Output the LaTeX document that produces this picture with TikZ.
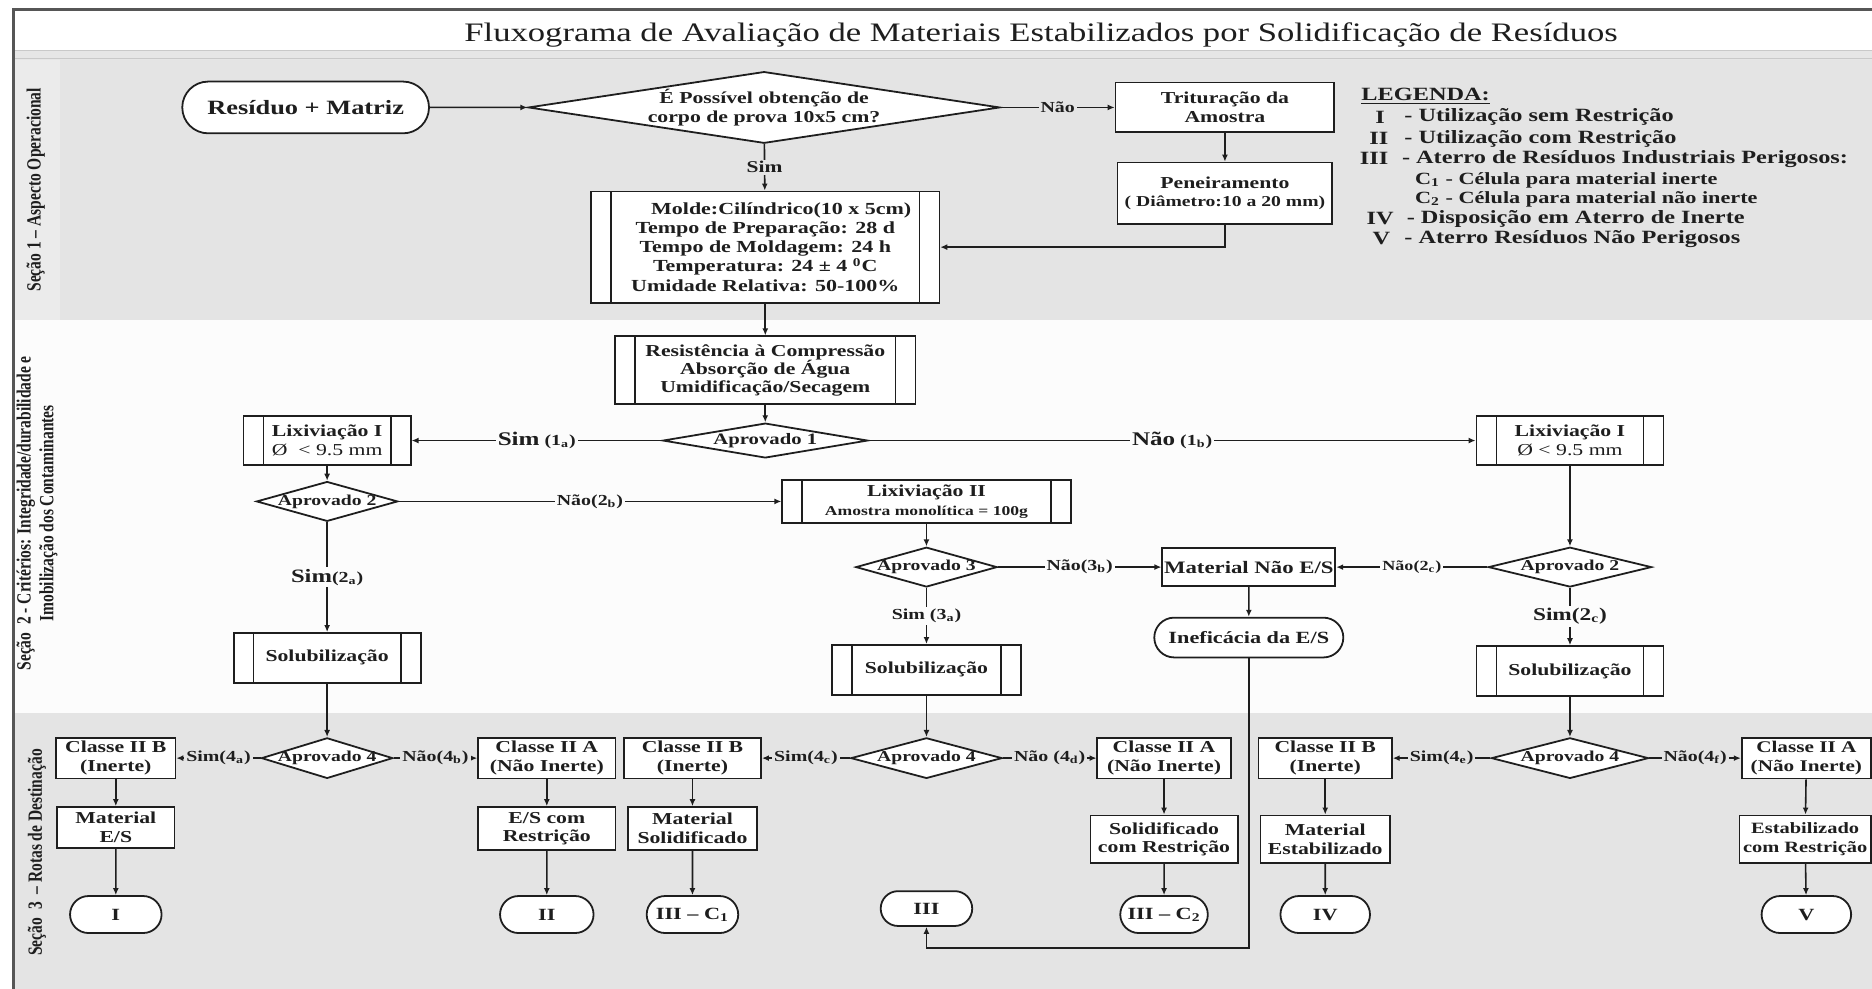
\documentclass[tikz,border=0pt]{standalone}
\usepackage{fontspec}
\setmainfont{Liberation Serif}[FakeStretch=1.3]
\newfontfamily\rotfont{Liberation Serif}
\usetikzlibrary{shapes.geometric,shapes.misc,arrows.meta,calc}
\definecolor{band}{RGB}{228,228,228}
\definecolor{bandl}{RGB}{235,235,235}
\definecolor{bandw}{RGB}{252,252,252}
\definecolor{ink}{RGB}{30,30,30}
\definecolor{sep}{RGB}{210,210,210}
\newcommand{\fz}[2]{\fontsize{#1}{#2}\selectfont}
\begin{document}
\begin{tikzpicture}[x=0.6pt,y=-0.6pt,
 wh/.style 2 args={minimum width=#1,minimum height=#2},
 box/.style={draw=ink,line width=0.9pt,fill=white,align=center,text=ink,inner sep=0pt,font=\bfseries\fz{8.4}{9.4}},
 subp/.style={box,path picture={\draw[ink,line width=0.8pt]
   ([xshift=10pt]path picture bounding box.north west) -- ([xshift=10pt]path picture bounding box.south west)
   ([xshift=-10pt]path picture bounding box.north east) -- ([xshift=-10pt]path picture bounding box.south east);}},
 dec/.style={diamond,draw=ink,line width=0.9pt,fill=white,inner sep=0pt},
 dlab/.style={font=\bfseries\fz{7.6}{8.5},align=center,text=ink,inner sep=0pt},
 term/.style={rounded rectangle,draw=ink,line width=0.9pt,fill=white,text=ink,inner sep=0pt,font=\bfseries\fz{8.6}{9}},
 arr/.style={draw=ink,line width=0.8pt,-{Latex[length=3.5pt,width=3pt]}},
 elab/.style={font=\bfseries\fz{7.7}{8},text=ink,inner sep=1pt},
 lg/.style={font=\bfseries\fz{9.4}{10},text=ink,inner sep=0pt},
 rlab/.style={rotate=90,yscale=1.3,text=ink,align=center,font=\rotfont\bfseries\fz{7.8}{8.8}},
]
\useasboundingbox (0,0) rectangle (1568,828);
% backgrounds
\fill[white] (0,0) rectangle (1568,828);
\fill[band] (11,50) rectangle (1568,268);
\fill[bandl] (11,50) rectangle (50,268);
\fill[bandw] (11,268) rectangle (1568,597);
\fill[band] (11,597) rectangle (1568,828);
\fill[sep!55] (11,42) rectangle (1568,50);
\draw[sep!120,line width=0.6pt] (11,42) -- (1568,42) (11,49) -- (1568,49);
\draw[ink!75,line width=1.4pt] (11,828) -- (11,8) -- (1568,8);

% title and section labels
\node[anchor=base,font=\fz{13.4}{14},text=ink] (title) at (872,35) {Fluxograma de Avaliação de Materiais Estabilizados por Solidificação de Resíduos};
\node[rlab] (s1) at (30,159) {Seção 1 – Aspecto Operacional};
\node[rlab] (s2) at (31,430) {Seção\ \ 2 - Critérios: Integridade/durabilidade e\\Imobilização dos Contaminantes};
\node[rlab] (s3) at (31,714) {Seção\ \ 3\ \ – Rotas de Destinação};

% legend
\node[lg,anchor=west] (lgT) at (1140,81) {\underline{LEGENDA:}};
\node[lg] (lg1n) at (1156,98) {I};
\node[lg,anchor=west] (lg1) at (1176,98) {- Utilização sem Restrição};
\node[lg] (lg2n) at (1155,116) {II};
\node[lg,anchor=west] (lg2) at (1176,116) {- Utilização com Restrição};
\node[lg] (lg3n) at (1151,133) {III};
\node[lg,anchor=west] (lg3) at (1174,133) {- Aterro de Resíduos Industriais Perigosos:};
\node[lg,anchor=west,font=\bfseries\fz{8.6}{9}] (lgc1) at (1185,151) {C\textsubscript{1} - Célula para material inerte};
\node[lg,anchor=west,font=\bfseries\fz{8.6}{9}] (lgc2) at (1185,167) {C\textsubscript{2} - Célula para material não inerte};
\node[lg] (lg4n) at (1156,183) {IV};
\node[lg,anchor=west] (lg4) at (1178,183) {- Disposição em Aterro de Inerte};
\node[lg] (lg5n) at (1157,200) {V};
\node[lg,anchor=west] (lg5) at (1176,200) {- Aterro Resíduos Não Perigosos};

% Section 1
\node[term,wh={124pt}{26pt},font=\bfseries\fz{10.2}{11}] (res) at (256,90) {Resíduo + Matriz};
\node[dec,wh={237pt}{36pt},label={[dlab,font=\bfseries\fz{8.4}{9.6}]center:É Possível obtenção de\\corpo de prova 10x5 cm?}] (dia1) at (640,90) {};
\node[box,wh={110pt}{25pt}] (trit) at (1026,90) {Trituração da\\Amostra};
\node[box,wh={108pt}{31pt}] (pen) at (1026,162) {Peneiramento\\{\fz{7.6}{9}( Diâmetro:10 a 20 mm)}};
\node[subp,wh={175pt}{56pt},font=\bfseries\fz{8.5}{9.6}] (molde) at (641,207) {\hspace*{16pt}Molde:Cilíndrico(10 x 5cm)\\Tempo de Preparação: 28 d\\Tempo de Moldagem: 24 h\\Temperatura: 24 ± 4 \textsuperscript{0}C\\Umidade Relativa: 50-100\%};

% Section 2
\node[subp,wh={151pt}{34pt},font=\bfseries\fz{8.4}{9}] (resist) at (641,310) {Resistência à Compressão\\Absorção de Água\\Umidificação/Secagem};
\node[dec,wh={103pt}{17.5pt},label={[dlab,font=\bfseries\fz{8}{9}]center:Aprovado 1}] (ap1) at (641,369) {};
\node[subp,wh={84pt}{24.6pt}] (lixL) at (274,369) {Lixiviação I\\{\mdseries Ø\ \ < 9.5 mm}};
\node[subp,wh={94pt}{24.6pt}] (lixR) at (1315,369) {Lixiviação I\\{\mdseries Ø < 9.5 mm}};
\node[dec,wh={71pt}{20pt},label={[dlab]center:Aprovado 2}] (ap2L) at (274,420) {};
\node[subp,wh={145pt}{21.6pt}] (lix2) at (776,420) {Lixiviação II\\{\fz{6.8}{8}Amostra monolítica = 100g}};
\node[dec,wh={71pt}{20pt},label={[dlab]center:Aprovado 3}] (ap3) at (776,475) {};
\node[box,wh={87pt}{19pt},font=\bfseries\fz{8.8}{9}] (mat) at (1046,475) {Material Não E/S};
\node[dec,wh={82pt}{20pt},label={[dlab]center:Aprovado 2}] (ap2R) at (1315,475) {};
\node[term,wh={95pt}{20pt}] (inef) at (1046,534) {Ineficácia da E/S};
\node[subp,wh={94pt}{25pt}] (solL) at (274,551) {Solubilização};
\node[subp,wh={95pt}{25pt}] (solM) at (776,561) {Solubilização};
\node[subp,wh={94pt}{25pt}] (solR) at (1315,562) {Solubilização};

% Section 3
\node[dec,wh={66pt}{20.4pt},label={[dlab]center:Aprovado 4}] (ap4L) at (274,635) {};
\node[dec,wh={76pt}{20.4pt},label={[dlab]center:Aprovado 4}] (ap4M) at (776,635) {};
\node[dec,wh={79pt}{20.4pt},label={[dlab]center:Aprovado 4}] (ap4R) at (1315,635) {};
\node[box,wh={60pt}{20.4pt}] (c2bL) at (97,635) {Classe II B\\(Inerte)};
\node[box,wh={69pt}{20.4pt}] (c2aL) at (458,635) {Classe II A\\(Não Inerte)};
\node[box,wh={69pt}{20.4pt}] (c2bM) at (580,635) {Classe II B\\(Inerte)};
\node[box,wh={67pt}{20.4pt}] (c2aM) at (975,635) {Classe II A\\(Não Inerte)};
\node[box,wh={67pt}{20.4pt}] (c2bR) at (1110,635) {Classe II B\\(Inerte)};
\node[box,wh={65pt}{20.4pt},font=\bfseries\fz{8.2}{9.4}] (c2aR) at (1513,635) {Classe II A\\(Não Inerte)};
\node[box,wh={59pt}{20.4pt}] (matES) at (97,693) {Material\\E/S};
\node[box,wh={69pt}{21.6pt}] (esRes) at (458,694) {E/S com\\Restrição};
\node[box,wh={65pt}{21.6pt}] (matSol) at (580,694) {Material\\Solidificado};
\node[box,wh={74pt}{24pt}] (solRes) at (975,703) {Solidificado\\com Restrição};
\node[box,wh={65pt}{24pt}] (matEst) at (1110,703) {Material\\Estabilizado};
\node[box,wh={66pt}{24pt},font=\bfseries\fz{7.9}{9.4}] (estRes) at (1512,703) {Estabilizado\\com Restrição};
\node[term,wh={46pt}{18.6pt}] (tI) at (97,766) {I};
\node[term,wh={47pt}{18.6pt}] (tII) at (458,766) {II};
\node[term,wh={46pt}{18.6pt}] (tIIIc1) at (580,766) {III – C\textsubscript{1}};
\node[term,wh={46pt}{17.5pt}] (tIII) at (776,761) {III};
\node[term,wh={44pt}{18.6pt}] (tIIIc2) at (975,766) {III – C\textsubscript{2}};
\node[term,wh={45pt}{18.6pt}] (tIV) at (1110,766) {IV};
\node[term,wh={45pt}{18.6pt}] (tV) at (1513,766) {V};
\coordinate (loop) at (776,794);

% connectors section 1
\draw[arr] (res) -- (dia1);
\draw[arr] (dia1) -- node[elab,fill=band]{Não} (trit);
\draw[arr] (dia1) -- node[elab,fill=band,font=\bfseries\fz{8.3}{9}]{Sim} (molde);
\draw[arr] (trit) -- (pen);
\draw[arr] (pen.south) |- (molde.east);
\draw[arr] (molde) -- (resist);
% section 2
\draw[arr] (resist) -- (ap1);
\draw[arr] (ap1) -- node[elab,fill=bandw]{{\fz{9.7}{10}Sim} (1\textsubscript{a})} (lixL);
\draw[arr] (ap1) -- node[elab,fill=bandw]{{\fz{9.7}{10}Não} (1\textsubscript{b})} (lixR);
\draw[arr] (lixL) -- (ap2L);
\draw[arr] (ap2L) -- node[elab,fill=bandw]{Não(2\textsubscript{b})} (lix2);
\draw[arr] (ap2L) -- node[elab,fill=bandw]{{\fz{9.5}{10}Sim}(2\textsubscript{a})} (solL);
\draw[arr] (lix2) -- (ap3);
\draw[arr] (ap3) -- node[elab,fill=bandw]{Não(3\textsubscript{b})} (mat);
\draw[arr] (ap3) -- node[elab,fill=bandw]{Sim (3\textsubscript{a})} (solM);
\draw[arr] (lixR) -- (ap2R);
\draw[arr] (ap2R) -- node[elab,fill=bandw,font=\bfseries\fz{7}{8}]{Não(2\textsubscript{c})} (mat);
\draw[arr] (ap2R) -- node[elab,fill=bandw,font=\bfseries\fz{9}{10}]{Sim(2\textsubscript{c})} (solR);
\draw[arr] (mat) -- (inef);
\draw[arr] (inef.south) -- (inef.south |- loop) -- (loop) -- (tIII.south);
% section 3
\draw[arr] (solL) -- (ap4L);
\draw[arr] (ap4L) -- node[elab,fill=band]{Sim(4\textsubscript{a})} (c2bL);
\draw[arr] (ap4L) -- node[elab,fill=band]{Não(4\textsubscript{b})} (c2aL);
\draw[arr] (c2bL) -- (matES);
\draw[arr] (matES) -- (tI);
\draw[arr] (c2aL) -- (esRes);
\draw[arr] (esRes) -- (tII);
\draw[arr] (solM) -- (ap4M);
\draw[arr] (ap4M) -- node[elab,fill=band]{Sim(4\textsubscript{c})} (c2bM);
\draw[arr] (ap4M) -- node[elab,fill=band]{Não (4\textsubscript{d})} (c2aM);
\draw[arr] (c2bM) -- (matSol);
\draw[arr] (matSol) -- (tIIIc1);
\draw[arr] (c2aM) -- (solRes);
\draw[arr] (solRes) -- (tIIIc2);
\draw[arr] (solR) -- (ap4R);
\draw[arr] (ap4R) -- node[elab,fill=band]{Sim(4\textsubscript{e})} (c2bR);
\draw[arr] (ap4R) -- node[elab,fill=band]{Não(4\textsubscript{f})} (c2aR);
\draw[arr] (c2bR) -- (matEst);
\draw[arr] (matEst) -- (tIV);
\draw[arr] (c2aR) -- (estRes);
\draw[arr] (estRes) -- (tV);
\end{tikzpicture}
\end{document}
